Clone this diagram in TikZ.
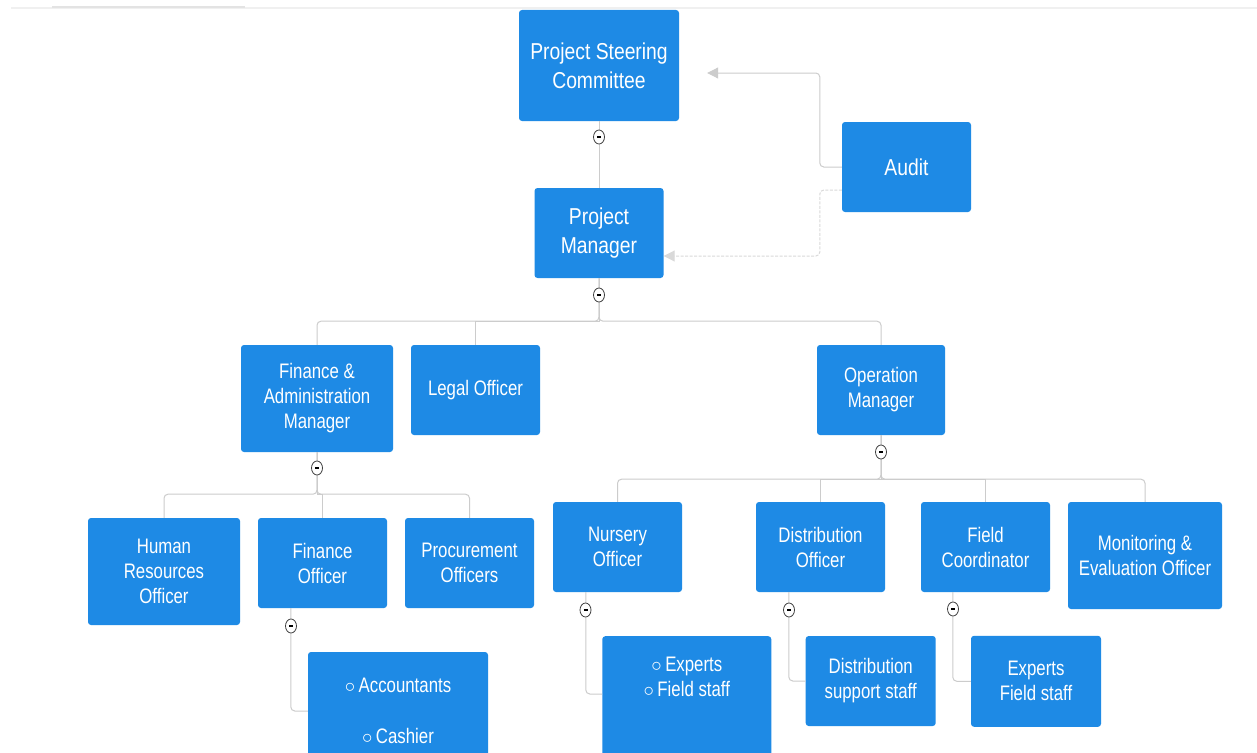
\documentclass[tikz,border=0pt]{standalone}
\usepackage{fontspec}
\newfontfamily\boxfont{Liberation Sans}[FakeStretch=0.8]
\newfontfamily\topfont{Liberation Sans}[FakeStretch=0.84]
\usepackage{xcolor}
\usepackage{tikz}
\usetikzlibrary{arrows.meta}
\usetikzlibrary{positioning}
\usetikzlibrary{shapes.geometric}
\definecolor{boxblue}{RGB}{30,138,229}

\begin{document}
\begin{tikzpicture}[x=1pt, y=-1pt,
        unit/.style={fill=boxblue, rounded corners=3pt, text=white, align=center, inner sep=0pt, font=\boxfont\fontsize{21}{25}\selectfont},
        topunit/.style={unit, font=\topfont\fontsize{23}{29}\selectfont},
        link/.style={draw=gray!40, line width=1pt},
        feedback/.style={link, -{Triangle[length=11pt, width=11pt]}, rounded corners=4pt},
        toggle/.style={ellipse, draw=gray!50!black, fill=white, line width=0.8pt, minimum width=11pt, minimum height=14pt, inner sep=0pt}
    ]

    \clip (0,0) rectangle (1257,752);
    \fill[white] (0,0) rectangle (1257,752);

    % Borde superior
    \draw[gray!12, line width=1.5pt] (11,8) -- (1257,8);
    \draw[gray!22, line width=2pt] (52,7) -- (245,7);

    % Nivel superior
    \node[topunit, minimum width=160pt, minimum height=111pt] (psc) at (599,65.5) {Project Steering\\Committee};
    \node[topunit, minimum width=129pt, minimum height=90pt] (pm) at (599,233) {Project\\Manager};
    \node[topunit, minimum width=129pt, minimum height=90pt] (audit) at (906.5,167) {Audit};

    % Gerentes
    \node[unit, minimum width=152pt, minimum height=107pt] (fa) at (317,398.5) {Finance \&\\Administration\\Manager};
    \node[unit, minimum width=129pt, minimum height=90pt] (legal) at (475.5,390) {Legal Officer};
    \node[unit, minimum width=128pt, minimum height=90pt] (om) at (881,390) {Operation\\Manager};

    % Oficiales
    \node[unit, minimum width=152pt, minimum height=107pt] (hr) at (164,571.5) {Human\\Resources\\Officer};
    \node[unit, minimum width=129pt, minimum height=90pt] (fo) at (322.5,563) {Finance\\Officer};
    \node[unit, minimum width=129pt, minimum height=90pt] (proc) at (469.5,563) {Procurement\\Officers};
    \node[unit, minimum width=129pt, minimum height=90pt] (nur) at (617.5,547) {Nursery\\Officer};
    \node[unit, minimum width=129pt, minimum height=90pt] (dist) at (820.5,547) {Distribution\\Officer};
    \node[unit, minimum width=129pt, minimum height=90pt] (fc) at (985.5,547) {Field\\Coordinator};
    \node[unit, minimum width=154pt, minimum height=107pt] (me) at (1145,555.5) {Monitoring \&\\Evaluation Officer};

    % Personal
    \node[unit, minimum width=180pt, minimum height=118pt] (acc) at (398,711) {$\circ$\,Accountants\\[26pt]$\circ$\,Cashier};
    \node[unit, minimum width=169pt, anchor=north, inner ysep=21pt] (nexp) at (686.8,636) {$\circ$\,Experts\\$\circ$\,Field staff\\\rule{0pt}{70pt}};
    \node[unit, minimum width=130pt, minimum height=90pt] (dsup) at (870.7,681) {Distribution\\support staff};
    \node[unit, minimum width=130pt, minimum height=91pt] (fexp) at (1036,681.3) {Experts\\Field staff};

    % Conexiones
    \draw[link] (psc.south) -- (pm.north);

    \draw[link, rounded corners=4pt] (pm.south) -- ++(0,43) -| (fa.north);
    \draw[link] (pm.south) -- ++(0,43) -| (legal.north);
    \draw[link, rounded corners=4pt] (pm.south) -- ++(0,43) -| (om.north);

    \draw[link, rounded corners=4pt] (fa.south) -- ++(0,42) -| (hr.north);
    \draw[link] (fa.south) -- ++(0,42) -| (fo.north);
    \draw[link, rounded corners=4pt] (fa.south) -- ++(0,42) -| (proc.north);

    \draw[link, rounded corners=4pt] (om.south) -- ++(0,44) -| (nur.north);
    \draw[link] (om.south) -- ++(0,44) -| (dist.north);
    \draw[link] (om.south) -- ++(0,44) -| (fc.north);
    \draw[link, rounded corners=4pt] (om.south) -- ++(0,44) -| (me.north);

    \draw[link, rounded corners=4pt] ([xshift=33pt]fo.south west) |- (acc.west);
    \draw[link, rounded corners=4pt] ([xshift=33pt]nur.south west) |- ([yshift=-58pt]nexp.north west);
    \draw[link, rounded corners=4pt] ([xshift=33pt]dist.south west) |- (dsup.west);
    \draw[link, rounded corners=4pt] ([xshift=32pt]fc.south west) |- (fexp.west);

    % Auditoria
    \draw[feedback, shorten >=28pt] (audit.west) -- ++(-22,0) |- ([yshift=-7.5pt]psc.east);
    \draw[feedback, draw=gray!30, dash pattern=on 3pt off 1.5pt] ([yshift=-23pt]audit.west) -- ++(-22,0) |- ([yshift=-23pt]pm.east);

    % Marcadores
    \node[toggle] (t1) at (599,137) {\rule{4pt}{1.3pt}};
    \node[toggle] (t2) at (599,295) {\rule{4pt}{1.3pt}};
    \node[toggle] (t3) at (317,468) {\rule{4pt}{1.3pt}};
    \node[toggle] (t4) at (881,452) {\rule{4pt}{1.3pt}};
    \node[toggle] (t5) at (291,626) {\rule{4pt}{1.3pt}};
    \node[toggle] (t6) at (585.5,610) {\rule{4pt}{1.3pt}};
    \node[toggle] (t7) at (789,610) {\rule{4pt}{1.3pt}};
    \node[toggle] (t8) at (953,609) {\rule{4pt}{1.3pt}};

\end{tikzpicture}
\end{document}
